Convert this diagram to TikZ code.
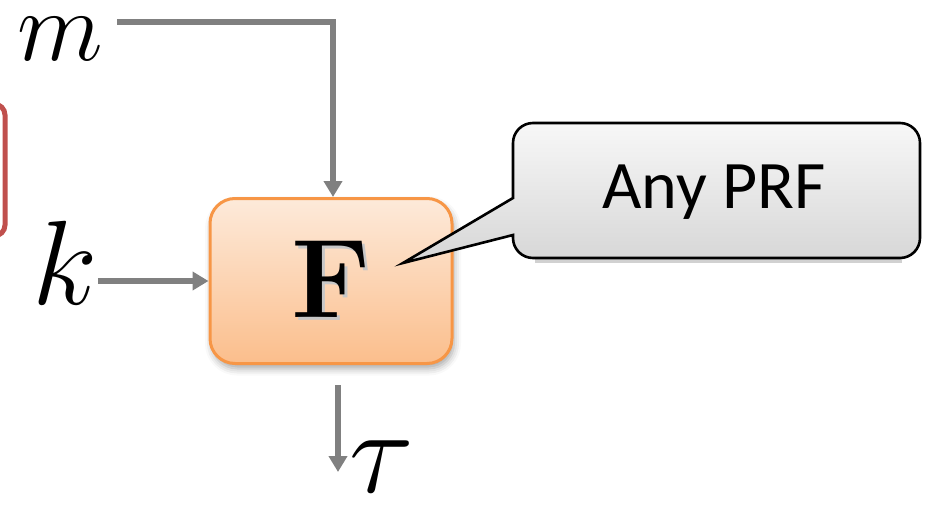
\RequirePackage{fix-cm}
\documentclass[tikz,border=0pt]{standalone}
\usepackage{fontspec}
\newfontfamily\calibri{Carlito}
\usetikzlibrary{arrows.meta,shadows.blur}
\definecolor{wire}{RGB}{128,128,128}
\definecolor{prfedge}{RGB}{247,150,70}
\definecolor{prftop}{RGB}{253,234,218}
\definecolor{prfbot}{RGB}{251,190,140}
\definecolor{boxred}{RGB}{192,80,77}
\tikzset{
  wirearrow/.style={draw=wire,line width=5.5pt,-{Triangle[width=18pt,length=16pt]}},
  var/.style={inner sep=0pt,font=\fontsize{100}{100}\selectfont},
  bigvar/.style={inner sep=0pt,font=\fontsize{120}{120}\selectfont},
  prfbox/.style={draw=prfedge,line width=3pt,rounded corners=25pt,
    top color=prftop,bottom color=prfbot,minimum width=242pt,minimum height=165pt,
    blur shadow={shadow xshift=2pt,shadow yshift=-5pt,shadow blur radius=7pt,shadow opacity=35}},
  calloutpath/.style={draw=black,line width=2.6pt,top color=gray!6,bottom color=gray!32}
}
\newcommand{\shadowedF}{\makebox[0pt][l]{\kern3pt\raisebox{-3pt}{\color{black!22}F}}F}
\begin{document}
\begin{tikzpicture}[x=1pt,y=1pt]
\useasboundingbox (0,0) rectangle (926,507);
\clip (0,0) rectangle (926,507);
% frame partly cut off at the left edge
\draw[boxred,line width=5pt,rounded corners=11pt] (-80,271) rectangle (5,403);
% inputs, function box and output
\node[var] (m) at (60,468) {$m$};
\node[bigvar] (k) at (65,244) {$k$};
\node[prfbox] (F) at (331,226) {};
\node (Flabel) at (F.center) {\fontsize{112}{112}\selectfont\bfseries\shadowedF};
\node[bigvar] (tau) at (382,40) {$\tau$};
\draw[wirearrow] ([xshift=14pt,yshift=17pt]m.east) -| ([xshift=2pt]F.north);
\draw[wirearrow] (k.east |- F.west) -- (F.west);
\coordinate (outstart) at ([xshift=7pt,yshift=-20pt]F.south);
\coordinate (outend) at ([xshift=7pt,yshift=-107pt]F.south);
\draw[wirearrow] (outstart) -- (outend);
% soft shadow under the speech bubble
\fill[black,opacity=0.18] (535,244) rectangle (902,252);
% speech bubble with its pointer into the box
\path[calloutpath] (513,309) -- (403,244) -- (513,272) -- (513,269)
  arc(180:270:20) -- (900,249) arc(270:360:20) -- (920,364)
  arc(0:90:20) -- (533,384) arc(90:180:20) -- cycle;
\node[anchor=base,inner sep=0pt] (prf) at (714,299) {\calibri\fontsize{68}{68}\selectfont Any PRF};
\end{tikzpicture}
\end{document}
